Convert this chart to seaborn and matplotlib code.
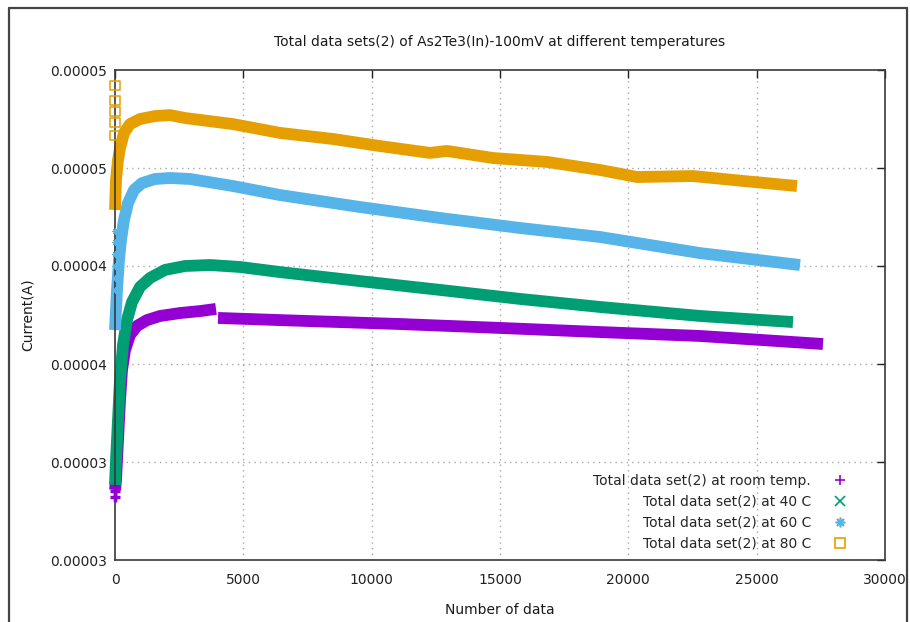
import matplotlib
matplotlib.use("Agg")
import matplotlib.pyplot as plt
from matplotlib.lines import Line2D
import numpy as np
import pandas as pd
import seaborn as sns

# ---- measured series (current in amperes vs. sample index) ----
room_x = [0, 39, 117, 195, 273, 390, 584, 857, 1247, 1753, 2532, 3312, 3935,
          4013, 6428, 11104, 15000, 18896, 22792, 27584]
room_y = [2.857e-5, 2.908e-5, 3.112e-5, 3.316e-5, 3.469e-5, 3.571e-5, 3.648e-5,
          3.694e-5, 3.724e-5, 3.745e-5, 3.760e-5, 3.770e-5, 3.781e-5,
          3.735e-5, 3.724e-5, 3.704e-5, 3.684e-5, 3.663e-5, 3.643e-5, 3.602e-5]
# recording restarted after sample 3935 -> the trace has two runs
room_run = [0] * 13 + [1] * 7
room_start_y = [2.82e-5, 2.85e-5]

c40_x = [0, 39, 117, 195, 312, 468, 662, 974, 1364, 1948, 2727, 3701, 4870,
         6428, 9545, 12662, 15779, 18896, 22792, 26415]
c40_y = [2.883e-5, 3.010e-5, 3.214e-5, 3.418e-5, 3.597e-5, 3.724e-5, 3.816e-5,
         3.893e-5, 3.939e-5, 3.980e-5, 4.000e-5, 4.005e-5, 3.995e-5,
         3.969e-5, 3.923e-5, 3.878e-5, 3.832e-5, 3.791e-5, 3.745e-5, 3.714e-5]

c60_x = [0, 78, 156, 234, 351, 506, 740, 1052, 1558, 2143, 2922, 4597, 6428,
         9545, 12662, 15779, 18896, 22792, 26688]
c60_y = [3.673e-5, 3.878e-5, 4.031e-5, 4.133e-5, 4.235e-5, 4.321e-5, 4.388e-5,
         4.423e-5, 4.444e-5, 4.449e-5, 4.444e-5, 4.408e-5, 4.362e-5,
         4.301e-5, 4.245e-5, 4.194e-5, 4.148e-5, 4.066e-5, 4.005e-5]
c60_start_y = [4.18e-5, 4.12e-5, 4.06e-5, 4.00e-5, 3.94e-5, 3.88e-5]

c80_x = [0, 39, 117, 195, 351, 584, 974, 1558, 2143, 2727, 4597, 6428, 8493,
         10324, 12272, 12935, 14727, 16831, 18896, 20337, 22519, 24467, 26571]
c80_y = [4.286e-5, 4.439e-5, 4.541e-5, 4.602e-5, 4.679e-5, 4.724e-5, 4.750e-5,
         4.765e-5, 4.770e-5, 4.755e-5, 4.724e-5, 4.679e-5, 4.648e-5,
         4.612e-5, 4.577e-5, 4.587e-5, 4.551e-5, 4.531e-5, 4.490e-5,
         4.454e-5, 4.459e-5, 4.434e-5, 4.408e-5]
c80_start_y = [4.923e-5, 4.842e-5, 4.786e-5, 4.730e-5, 4.668e-5]

labels = ["Total data set(2) at room temp.", "Total data set(2) at 40 C",
          "Total data set(2) at 60 C", "Total data set(2) at 80 C"]
colors = ["#9400d3", "#009e73", "#56b4e9", "#e69f00"]
markers = ["+", "x", (8, 2, 0), "s"]

x_ticks = [0, 5000, 10000, 15000, 20000, 25000, 30000]
y_ticks = [2.5e-5, 3.0e-5, 3.5e-5, 4.0e-5, 4.5e-5, 5.0e-5]
y_tick_labels = ["0.00003", "0.00003", "0.00004", "0.00004", "0.00005", "0.00005"]

sns.set_theme(style="white")
plt.rcParams["font.family"] = ["DejaVu Sans"]

frames = []
for lab, xs, ys, run in [(labels[0], room_x, room_y, room_run),
                         (labels[1], c40_x, c40_y, [0] * len(c40_x)),
                         (labels[2], c60_x, c60_y, [0] * len(c60_x)),
                         (labels[3], c80_x, c80_y, [0] * len(c80_x))]:
    frames.append(pd.DataFrame({"n": xs, "current": ys, "set": lab, "run": run}))
df = pd.concat(frames, ignore_index=True)

fig = plt.figure(figsize=(9.10, 6.22), dpi=100)
ax = fig.add_axes([115 / 910, 62 / 622, 770 / 910, 490 / 622])

# dotted grid at interior ticks
for xv in x_ticks[1:-1]:
    ax.axvline(xv, color="#a8a8a8", lw=1, ls=(0, (1, 3)), zorder=0)
for yv in y_ticks[1:-1]:
    ax.axhline(yv, color="#a8a8a8", lw=1, ls=(0, (1, 3)), zorder=0)

sns.lineplot(data=df, x="n", y="current", hue="set", hue_order=labels,
             units="run", palette=dict(zip(labels, colors)), sort=False,
             estimator=None, linewidth=8.5, legend=False, ax=ax)
for ln in ax.get_lines():
    ln.set_solid_capstyle("butt")
    ln.set_solid_joinstyle("bevel")
    ln.set_clip_on(False)

ax.scatter([0] * len(room_start_y), room_start_y, marker="+", s=50,
           color=colors[0], linewidths=2.5, clip_on=False, zorder=3)
ax.scatter([0] * len(c60_start_y), c60_start_y, marker=(8, 2, 0), s=14,
           color=colors[2], linewidths=0.8, clip_on=False, zorder=3)
ax.scatter([0] * len(c80_start_y), c80_start_y, marker="s", s=42,
           facecolors="none", edgecolors=colors[3], linewidths=1.1,
           clip_on=False, zorder=3)

ax.set_xlim(0, 30000)
ax.set_ylim(2.5e-5, 5.0e-5)
ax.set_xticks(x_ticks)
ax.set_xticklabels([str(v) for v in x_ticks])
ax.set_yticks(y_ticks)
ax.set_yticklabels(y_tick_labels)
ax.tick_params(axis="both", direction="in", length=6, width=1, colors="#222222",
               labelsize=10, top=True, right=True)
ax.tick_params(axis="x", pad=9)
ax.tick_params(axis="y", pad=6)
for sp in ax.spines.values():
    sp.set_color("#3a3a3a")
    sp.set_linewidth(1.2)

ax.set_title("Total data sets(2) of As2Te3(In)-100mV at different temperatures",
             fontsize=10, pad=17, color="#1a1a1a")
ax.set_xlabel("Number of data", fontsize=10, color="#1a1a1a")
ax.set_ylabel("Current(A)", fontsize=10, color="#1a1a1a")
ax.xaxis.set_label_coords(0.5, -0.088)
ax.yaxis.set_label_coords(-0.104, 0.5)

handles = [Line2D([], [], ls="none", marker=m, color=c, markersize=7,
                  markerfacecolor="none" if m == "s" else c, markeredgewidth=1.2)
           for m, c in zip(markers, colors)]
ax.legend(handles, labels, loc="center right", bbox_to_anchor=(0.969, 0.098),
          frameon=False, markerfirst=False, handlelength=2, handletextpad=1.1,
          borderpad=0, labelspacing=0.5, fontsize=10)

# page frame around the figure
fig.add_artist(Line2D([9 / 910, 9 / 910], [0, 1 - 8 / 622], color="#444444", lw=1.6))
fig.add_artist(Line2D([9 / 910, 907 / 910], [1 - 8 / 622, 1 - 8 / 622], color="#444444", lw=1.6))
fig.add_artist(Line2D([907 / 910, 907 / 910], [0, 1 - 8 / 622], color="#444444", lw=1.6))

fig.savefig("out.png", dpi=100)
